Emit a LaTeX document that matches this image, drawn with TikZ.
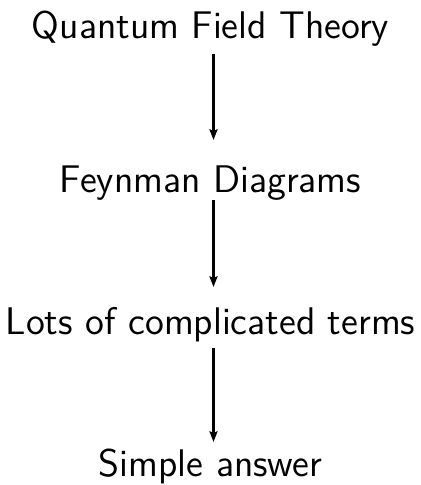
\documentclass[tikz,border=0pt]{standalone}
\usepackage{fontspec}
\usetikzlibrary{arrows.meta}
\begin{document}
\begin{tikzpicture}[x=0.3pt,y=-0.3pt,
  lbl/.style={anchor=base,inner sep=0pt,font=\sffamily\fontsize{11.55}{13}\selectfont},
  conn/.style={-{Stealth[length=3.2pt,width=2.4pt,inset=0.5pt]},line width=0.8pt}]
\useasboundingbox (0,0) rectangle (421,485);
\node[lbl] (a) at (210.5,38) {Quantum Field Theory};
\node[lbl] (b) at (210.5,192) {Feynman Diagrams};
\node[lbl] (c) at (210.5,334) {Lots of complicated terms};
\node[lbl] (d) at (210.5,476) {Simple answer};
\draw[conn] ([xshift=0.9pt,yshift=-4.8pt]a.base) -- ([xshift=0.9pt,yshift=15.6pt]b.base);
\draw[conn] ([xshift=0.9pt,yshift=-2.4pt]b.base) -- ([xshift=0.9pt,yshift=14.1pt]c.base);
\draw[conn] ([xshift=0.9pt,yshift=-4.2pt]c.base) -- ([xshift=0.9pt,yshift=10.2pt]d.base);
\end{tikzpicture}
\end{document}
